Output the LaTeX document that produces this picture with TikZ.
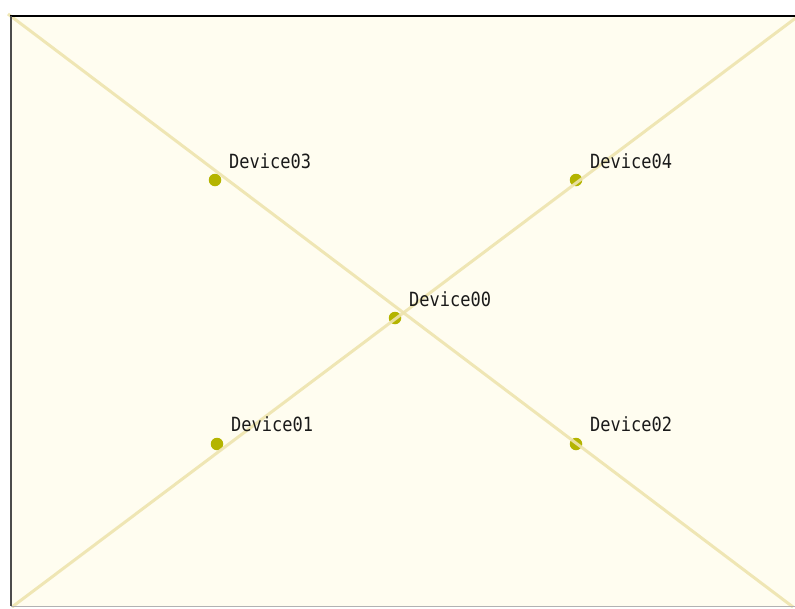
\documentclass[tikz,border=0pt]{standalone}
\usepackage{fontspec}
\newfontfamily\devfont{DejaVu Sans Mono}
\definecolor{bgc}{HTML}{FFFDF0}
\definecolor{dotc}{HTML}{B4B400}
\definecolor{linec}{HTML}{EEE4AE}
\definecolor{txtc}{HTML}{1A1A1A}
\newcommand{\tallname}[1]{\scalebox{1}[1.15]{#1}}
\begin{document}
\begin{tikzpicture}[x=1pt,y=-1pt,
  dev/.style={circle,fill=dotc,inner sep=0pt,minimum size=12.5pt},
  lbl/.style={anchor=base west,inner sep=0pt,text=txtc,font=\devfont\fontsize{17}{17}\selectfont},
  link/.style={draw=linec,line width=3pt,opacity=0.9}]
\useasboundingbox (0,0) rectangle (795,608);
\fill[white] (0,0) rectangle (795,608);
\fill[bgc] (11,16) rectangle (795,606);
% corners
\coordinate (tl) at (8,14);
\coordinate (br) at (793,607);
\coordinate (bl) at (12,607);
\coordinate (tr) at (797,17);
% devices
\node[dev] (d03) at (215,180) {};
\node[dev] (d04) at (576,180) {};
\node[dev] (d00) at (395,318) {};
\node[dev] (d01) at (217,444) {};
\node[dev] (d02) at (576,444) {};
% connectors
\draw[link] (tl) -- (br);
\draw[link] (bl) -- (tr);
% labels
\node[lbl] (l03) at (229,168) {\tallname{Device03}};
\node[lbl] (l04) at (590,168) {\tallname{Device04}};
\node[lbl] (l00) at (409,306) {\tallname{Device00}};
\node[lbl] (l01) at (231,431) {\tallname{Device01}};
\node[lbl] (l02) at (590,431) {\tallname{Device02}};
% frame
\draw[black,line width=1.6pt] (10.2,16) -- (795,16);
\draw[black!70,line width=1.6pt] (11,16) -- (11,606);
\draw[gray!60,line width=1.2pt] (11,606.5) -- (795,606.5);
\end{tikzpicture}
\end{document}
